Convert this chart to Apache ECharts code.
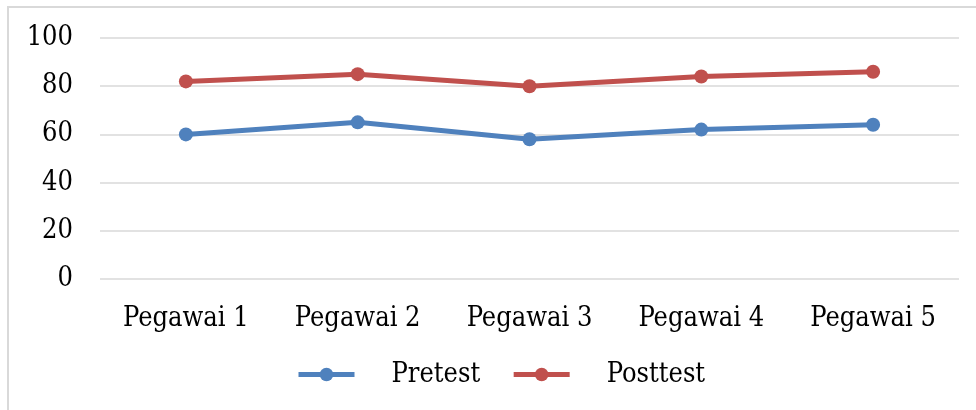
<!DOCTYPE html>
<html>
<head>
<meta charset="utf-8">
<script src="https://cdn.jsdelivr.net/npm/echarts@6/dist/echarts.min.js"></script>
<style>
  html, body { margin: 0; padding: 0; background: #fff; }
  #chart { width: 976px; height: 410px; }
</style>
</head>
<body>
<div id="chart"></div>
<script>
const categories = ['Pegawai 1', 'Pegawai 2', 'Pegawai 3', 'Pegawai 4', 'Pegawai 5'];
const pretest = [60, 65, 58, 62, 64];
const posttest = [82, 85, 80, 84, 86];

const font = '"DejaVu Serif Condensed", "DejaVu Serif"';
const chart = echarts.init(document.getElementById('chart'));

const lineSeries = (name, data, color) => ({
    name: name,
    type: 'line',
    data: data,
    symbol: 'circle',
    symbolSize: 14,
    lineStyle: { width: 5, color: color },
    itemStyle: { color: color },
    emphasis: { disabled: true }
});

chart.setOption({
    animation: false,
    graphic: [{
        type: 'rect',
        shape: { x: 8, y: 7, width: 1000, height: 500 },
        style: { fill: 'none', stroke: '#D9D9D9', lineWidth: 2 }
    }],
    grid: { left: 100, right: 17, top: 38, bottom: 131 },
    legend: {
        data: ['Pretest', 'Posttest'],
        bottom: 17,
        left: 291,
        itemWidth: 56,
        itemHeight: 17,
        itemGap: 31,
        lineStyle: { width: 5 },
        textStyle: { fontFamily: font, fontSize: 27, color: '#000', padding: [0, 0, 0, 32] }
    },
    xAxis: {
        type: 'category',
        data: categories,
        axisLine: { show: false },
        axisTick: { show: false },
        axisLabel: { fontFamily: font, fontSize: 27, color: '#000', margin: 26 }
    },
    yAxis: {
        type: 'value',
        min: 0,
        max: 100,
        interval: 20,
        axisLine: { show: false },
        axisTick: { show: false },
        splitLine: { lineStyle: { color: '#D9D9D9', width: 1.5 } },
        axisLabel: { fontFamily: font, fontSize: 27, color: '#000', margin: 27, padding: [4, 0, 0, 0] }
    },
    series: [
        lineSeries('Pretest', pretest, '#4F81BD'),
        lineSeries('Posttest', posttest, '#C0504D')
    ]
});
</script>
</body>
</html>
